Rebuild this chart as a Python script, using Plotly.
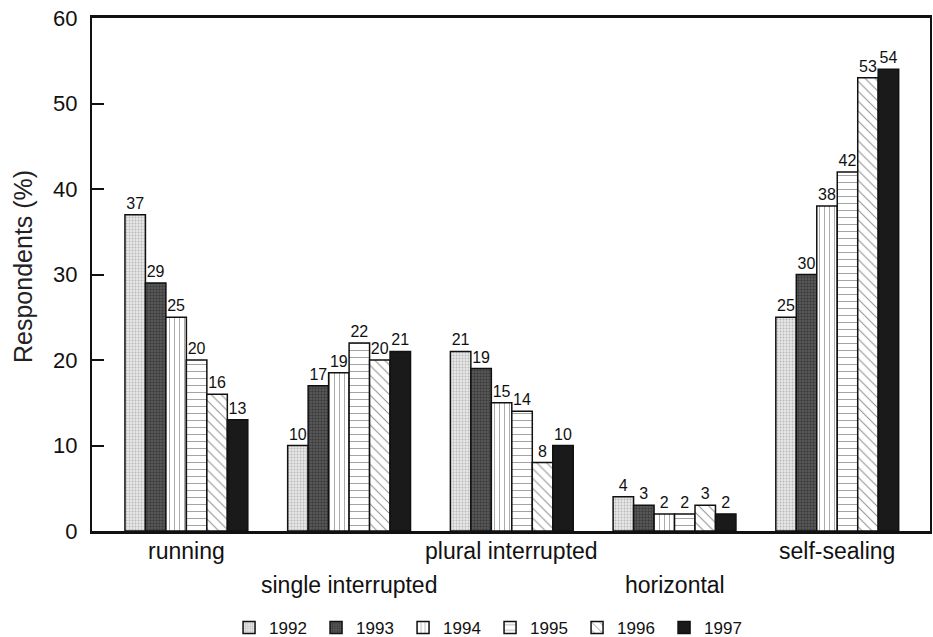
import plotly.graph_objects as go

categories = ["running", "single interrupted", "plural interrupted", "horizontal", "self-sealing"]
years = ["1992", "1993", "1994", "1995", "1996", "1997"]
values = {
    "1992": [37, 10, 21, 4, 25],
    "1993": [29, 17, 19, 3, 30],
    "1994": [25, 18.5, 15, 2, 38],
    "1995": [20, 22, 14, 2, 42],
    "1996": [16, 20, 8, 3, 53],
    "1997": [13, 21, 10, 2, 54],
}
labels = {
    "1992": [37, 10, 21, 4, 25],
    "1993": [29, 17, 19, 3, 30],
    "1994": [25, 19, 15, 2, 38],
    "1995": [20, 22, 14, 2, 42],
    "1996": [16, 20, 8, 3, 53],
    "1997": [13, 21, 10, 2, 54],
}
yticks = [0, 10, 20, 30, 40, 50, 60]

styles = {
    "1992": dict(color="#d8d8d8", pattern=dict(shape=".", bgcolor="#e6e6e6", fgcolor="#8a8a8a", size=3, solidity=0.3)),
    "1993": dict(color="#4a4a4a", pattern=dict(shape=".", bgcolor="#5e5e5e", fgcolor="#1a1a1a", size=3, solidity=0.5)),
    "1994": dict(color="white", pattern=dict(shape="|", bgcolor="white", fgcolor="#222", size=5, solidity=0.15)),
    "1995": dict(color="white", pattern=dict(shape="-", bgcolor="white", fgcolor="#222", size=7, solidity=0.12)),
    "1996": dict(color="white", pattern=dict(shape="\\", bgcolor="white", fgcolor="#222", size=7, solidity=0.15)),
    "1997": dict(color="#1a1a1a"),
}

font_family = "Liberation Sans, Arial, sans-serif"

fig = go.Figure()
xs = list(range(len(categories)))
for yr in years:
    fig.add_trace(go.Bar(
        name=yr,
        x=xs,
        y=values[yr],
        text=[str(v) for v in labels[yr]],
        textposition="outside",
        constraintext="none",
        cliponaxis=False,
        textfont=dict(size=16, color="#111", family=font_family),
        marker=dict(line=dict(color="#111", width=1.5), **styles[yr]),
    ))

row_y = [-0.039, -0.105]
for i, c in enumerate(categories):
    fig.add_annotation(
        x=i, y=row_y[i % 2], xref="x", yref="paper", text=c, showarrow=False,
        xanchor="center", yanchor="middle",
        font=dict(size=23, color="#111", family=font_family),
    )

fig.add_annotation(
    x=(23 - 92) / 838, y=(531 - 267) / 513, xref="paper", yref="paper", text="Respondents (%)",
    showarrow=False, textangle=-90, xanchor="center", yanchor="middle",
    font=dict(size=25, color="#222", family=font_family),
)

fig.update_layout(
    width=933, height=637,
    margin=dict(l=92, r=3, t=18, b=106, autoexpand=False),
    paper_bgcolor="white", plot_bgcolor="white",
    barmode="group", bargap=0.245, bargroupgap=0,
    font=dict(family=font_family, color="#111"),
    showlegend=True,
    legend=dict(
        orientation="h", x=0.475, xanchor="center", y=-0.189, yanchor="middle",
        font=dict(size=17, color="#111"), entrywidth=42, itemwidth=30, traceorder="normal",
    ),
    xaxis=dict(
        range=[-0.58, 4.57], showticklabels=False, ticks="", showgrid=False, automargin=False,
        zeroline=False, showline=True, linecolor="#111", linewidth=2.5, mirror=True,
    ),
    yaxis=dict(
        range=[0, 60], tickvals=yticks, ticks="inside", ticklen=12, tickwidth=1.5,
        tickcolor="#111", showgrid=False, zeroline=False, showline=True, automargin=False,
        linecolor="#111", linewidth=2, mirror=True, ticklabelstandoff=8,
        tickfont=dict(size=22, color="#111"),
    ),
)

fig.write_html(
    "out.html",
    config={"displayModeBar": False},
    post_script="document.body.style.margin='0';document.body.style.overflow='hidden';",
)
